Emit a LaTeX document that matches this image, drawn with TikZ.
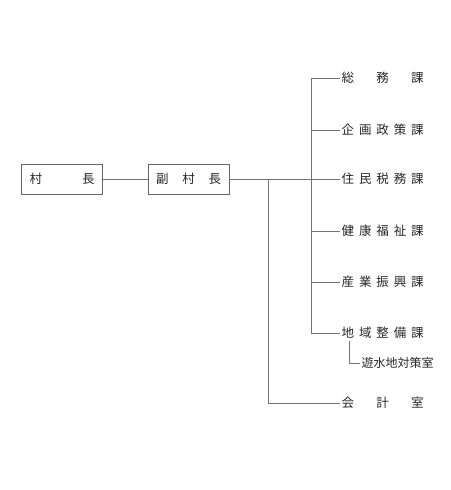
\documentclass[tikz,border=0pt]{standalone}
\usepackage{fontspec}
\newfontfamily\jfont{Noto Sans CJK JP}
\usetikzlibrary{positioning}

\newcommand{\spread}[2]{\makebox[#1][s]{#2}}

\begin{document}
\begin{tikzpicture}[x=1pt, y=-1pt,
    every node/.style={font=\jfont\fontsize{12.5}{13}\selectfont, text=black!85},
    line/.style={draw=black!55, line width=0.7pt},
    post/.style={draw=black!60, line width=0.7pt, minimum width=81pt,
                 minimum height=30pt, inner sep=0pt},
    ka/.style={anchor=west, inner sep=1.5pt}]
\useasboundingbox (0,0) rectangle (450,490);

% Boîtes
\node[post] (soncho) at (62,179) {\spread{65pt}{村\hfill 長}};
\node[post] (fuku) at (188.5,179) {\spread{65pt}{副\hfill 村\hfill 長}};

% Services
\node[ka] (somu)   at (340,78)  {\spread{82pt}{総\hfill 務\hfill 課}};
\node[ka] (kikaku) at (340,130) {\spread{82pt}{企\hfill 画\hfill 政\hfill 策\hfill 課}};
\node[ka] (jumin)  at (340,179) {\spread{82pt}{住\hfill 民\hfill 税\hfill 務\hfill 課}};
\node[ka] (kenko)  at (340,231) {\spread{82pt}{健\hfill 康\hfill 福\hfill 祉\hfill 課}};
\node[ka] (sangyo) at (340,282) {\spread{82pt}{産\hfill 業\hfill 振\hfill 興\hfill 課}};
\node[ka] (seibi)  at (340,333) {\spread{82pt}{地\hfill 域\hfill 整\hfill 備\hfill 課}};
\node[ka, font=\jfont\fontsize{12}{12}\selectfont] (yusui) at (360,363) {遊水地対策室};
\node[ka] (kaikei) at (340,403) {\spread{82pt}{会\hfill 計\hfill 室}};

\coordinate (kan) at (268,179);
\coordinate (bx) at (311,0);

% Liaisons
\draw[line] (soncho) -- (fuku);
\draw[line] (fuku) -- (jumin.west -| bx);
\draw[line] (kan) |- (kaikei.west);
\draw[line] (somu.west -| bx) -- (seibi.west -| bx);
\foreach \n in {somu, kikaku, jumin, kenko, sangyo, seibi}
  \draw[line] (\n.west -| bx) -- (\n.west);
\draw[line] ([xshift=9pt,yshift=-1pt]seibi.south west) |- (yusui.west);

\end{tikzpicture}
\end{document}
